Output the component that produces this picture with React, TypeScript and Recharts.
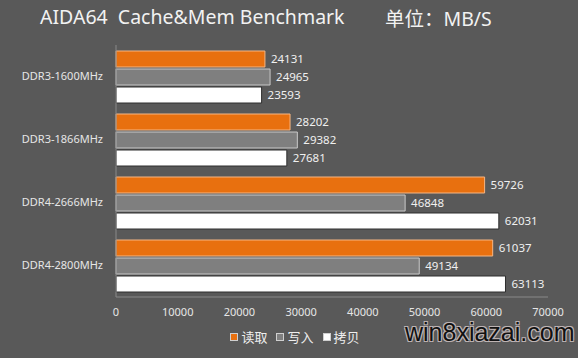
import React from "react";
import { BarChart, Bar, XAxis, YAxis, Legend, LabelList } from "recharts";

const categories = ["DDR3-1600MHz", "DDR3-1866MHz", "DDR4-2666MHz", "DDR4-2800MHz"];
const readValues = [24131, 28202, 59726, 61037];
const writeValues = [24965, 29382, 46848, 49134];
const copyValues = [23593, 27681, 62031, 63113];
const xTicks = [0, 10000, 20000, 30000, 40000, 50000, 60000, 70000];

const series = [
  { key: "read", name: "读取", color: "#e8700f", stroke: "#f6b684" },
  { key: "write", name: "写入", color: "#7f7f7f", stroke: "#c9c9c9" },
  { key: "copy", name: "拷贝", color: "#ffffff", stroke: "#2e2e2e" },
];

const data = categories.map((name, i) => ({
  name,
  read: readValues[i],
  write: writeValues[i],
  copy: copyValues[i],
}));

const FONT = "'Noto Sans', 'Noto Sans CJK SC', sans-serif";

const LegendContent = () => (
  <div style={{ display: "flex", justifyContent: "center", paddingLeft: 46, paddingTop: 8, fontFamily: FONT, fontSize: 13, color: "#eeeeee" }}>
    {series.map((s) => (
      <div key={s.key} style={{ display: "flex", alignItems: "center", marginRight: 9 }}>
        <span style={{ width: 6, height: 6, background: s.color, border: "1px solid #cfcfcf", marginRight: 3 }} />
        <span>{s.name}</span>
      </div>
    ))}
  </div>
);

const App: React.FC = () => {
  return (
    <div style={{ position: "fixed", left: 0, top: 0, width: 578, height: 358, background: "#595959", overflow: "hidden" }}>
      <div style={{ position: "absolute", left: 40, top: 3, fontFamily: FONT, fontSize: 19.5, color: "#f2f2f2", whiteSpace: "pre" }}>
        AIDA64  Cache&amp;Mem Benchmark
      </div>
      <div style={{ position: "absolute", left: 385, top: 3, fontFamily: FONT, fontSize: 19.5, color: "#f2f2f2", whiteSpace: "pre" }}>
        单位：MB/S
      </div>
      <BarChart
        layout="vertical"
        width={578}
        height={358}
        data={data}
        margin={{ top: 45, right: 30, bottom: 5, left: 5 }}
        barSize={16}
        barGap={2}
        style={{ fontFamily: FONT }}
      >
        <XAxis
          type="number"
          domain={[0, 70000]}
          ticks={xTicks}
          axisLine={{ stroke: "#8a8a8a" }}
          tickLine={false}
          tick={{ fill: "#e6e6e6", fontSize: 11 }}
          tickMargin={5}
          height={22}
        />
        <YAxis
          type="category"
          dataKey="name"
          width={111}
          axisLine={{ stroke: "#8a8a8a" }}
          tickLine={false}
          tick={{ fill: "#e6e6e6", fontSize: 11 }}
          tickMargin={7}
        />
        <Legend verticalAlign="bottom" height={34} content={<LegendContent />} />
        {series.map((s) => (
          <Bar key={s.key} dataKey={s.key} name={s.name} fill={s.color} stroke={s.stroke} strokeWidth={1} isAnimationActive={false}>
            <LabelList dataKey={s.key} position="right" offset={6} fill="#f0f0f0" fontSize={11.5} />
          </Bar>
        ))}
      </BarChart>
      <div
        style={{
          position: "absolute",
          left: 405,
          top: 318,
          fontFamily: "'Liberation Sans', sans-serif",
          fontSize: 25,
          lineHeight: "28px",
          color: "#111111",
          textShadow: "1px 1px 0 #bdb3b3, -1px -1px 0 #bdb3b3, 1px -1px 0 #bdb3b3, -1px 1px 0 #bdb3b3",
          whiteSpace: "pre",
        }}
      >
        win8xiazai.com
      </div>
    </div>
  );
};

export default App;
